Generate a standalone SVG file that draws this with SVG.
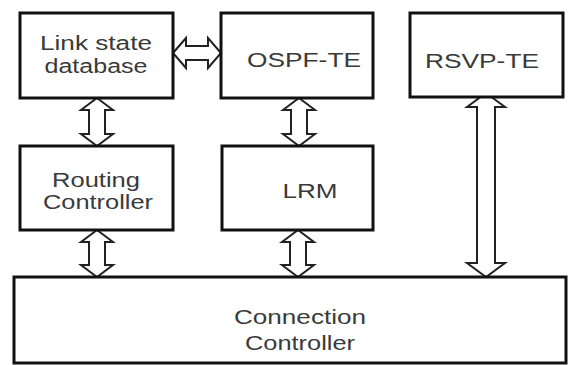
<svg xmlns="http://www.w3.org/2000/svg" width="569" height="365" viewBox="0 0 569 365">
<style>
.box{fill:#fff;stroke:#111;stroke-width:3}
.arr{fill:#fff;stroke:#222;stroke-width:2;stroke-linejoin:miter}
.t{font-family:"Liberation Sans",Arial,sans-serif;font-size:20px;fill:#3a3a3a;text-anchor:middle}
</style>
<rect width="569" height="365" fill="#fff"/>
<g id="connectors">
<path class="arr" d="M97,98 L113,110 L105,110 L105,134 L113,134 L97,146 L81,134 L89,134 L89,110 L81,110 Z"/>
<path class="arr" d="M97,230 L113,242 L105,242 L105,265 L113,265 L97,277 L81,265 L89,265 L89,242 L81,242 Z"/>
<path class="arr" d="M299,98 L315,110 L307,110 L307,134 L315,134 L299,146 L283,134 L291,134 L291,110 L283,110 Z"/>
<path class="arr" d="M298,230 L314,242 L306,242 L306,265 L314,265 L298,277 L282,265 L290,265 L290,242 L282,242 Z"/>
<path class="arr" d="M486,93 L505,107 L495,107 L495,263 L505,263 L486,277 L467,263 L477,263 L477,107 L467,107 Z"/>
<path class="arr" d="M173,53 L186,38 L186,46 L208,46 L208,38 L221,53 L208,68 L208,60 L186,60 L186,68 Z"/>
</g>
<g id="link-state-db">
<rect class="box" x="20" y="13" width="153" height="85"/>
<text class="t" x="96" y="50" textLength="112" lengthAdjust="spacingAndGlyphs">Link state</text>
<text class="t" x="96" y="73" textLength="103" lengthAdjust="spacingAndGlyphs">database</text>
</g>
<g id="ospf-te">
<rect class="box" x="221" y="13" width="152" height="85"/>
<text class="t" x="304" y="67" textLength="114" lengthAdjust="spacingAndGlyphs">OSPF-TE</text>
</g>
<g id="rsvp-te">
<rect class="box" x="410" y="13" width="153" height="84"/>
<text class="t" x="482" y="68" textLength="114" lengthAdjust="spacingAndGlyphs">RSVP-TE</text>
</g>
<g id="routing-controller">
<rect class="box" x="20" y="146" width="153" height="84"/>
<text class="t" x="96" y="187" textLength="88" lengthAdjust="spacingAndGlyphs">Routing</text>
<text class="t" x="98" y="209" textLength="110" lengthAdjust="spacingAndGlyphs">Controller</text>
</g>
<g id="lrm">
<rect class="box" x="222" y="146" width="151" height="84"/>
<text class="t" x="310" y="198" textLength="55" lengthAdjust="spacingAndGlyphs">LRM</text>
</g>
<g id="connection-controller">
<rect class="box" x="14" y="277" width="552" height="86"/>
<text class="t" x="300" y="324" textLength="132" lengthAdjust="spacingAndGlyphs">Connection</text>
<text class="t" x="300" y="350" textLength="110" lengthAdjust="spacingAndGlyphs">Controller</text>
</g>
</svg>
